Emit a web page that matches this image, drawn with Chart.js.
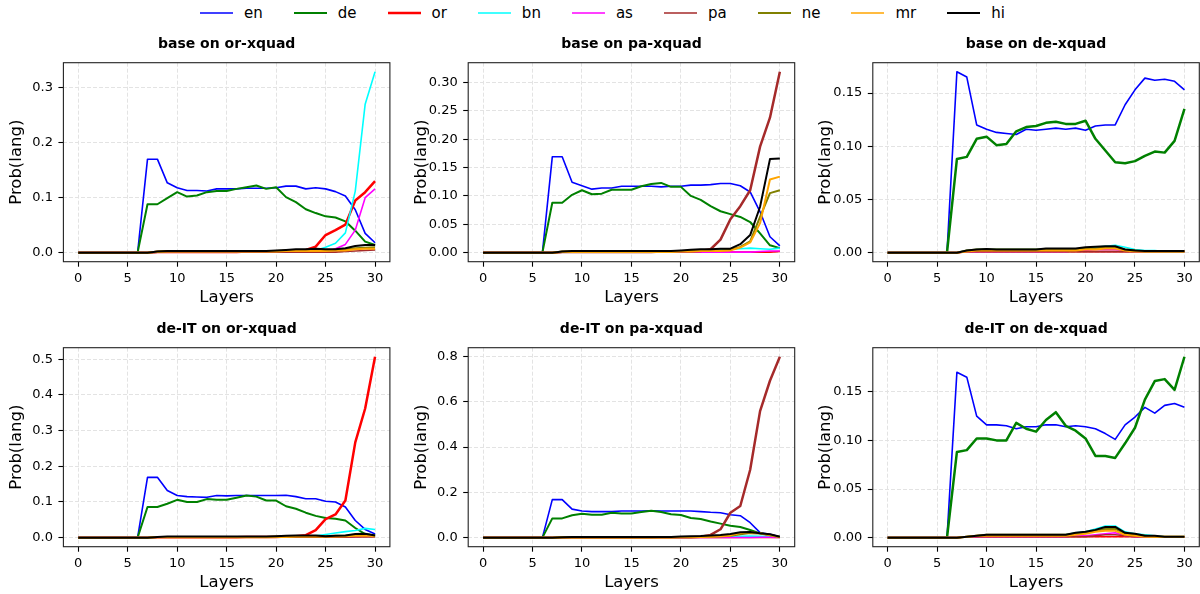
<!DOCTYPE html>
<html>
<head>
<meta charset="utf-8">
<script src="https://cdn.jsdelivr.net/npm/chart.js@4.4.1/dist/chart.umd.min.js"></script>
<style>
html,body{margin:0;padding:0;background:#fff;}
body{width:1200px;height:594px;overflow:hidden;position:relative;font-family:'DejaVu Sans',sans-serif;}
canvas{position:absolute;}
#legend{position:absolute;left:200px;top:2.7px;height:20px;display:flex;align-items:center;font-size:15px;color:#000;white-space:nowrap;}
.item{display:flex;align-items:center;margin-right:31px;}
.swatch{width:33px;height:6px;margin-right:11px;display:block;}
</style>
</head>
<body>
<div id="legend"></div>
<script>
// ---------------- DATA ----------------
const layers = [0,1,2,3,4,5,6,7,8,9,10,11,12,13,14,15,16,17,18,19,20,21,22,23,24,25,26,27,28,29,30];
const xTicks = [0,5,10,15,20,25,30];
const langs = ['en','de','or','bn','as','pa','ne','mr','hi'];
const panelTitles = ['base on or-xquad','base on pa-xquad','base on de-xquad','de-IT on or-xquad','de-IT on pa-xquad','de-IT on de-xquad'];
const panelTargets = ['or','pa','de','or','pa','de'];
const yTicks1 = [0,0.1,0.2,0.3];
const yTicks2 = [0,0.05,0.10,0.15,0.20,0.25,0.30];
const yTicks3 = [0,0.05,0.10,0.15];
const yTicks4 = [0,0.1,0.2,0.3,0.4,0.5];
const yTicks5 = [0,0.2,0.4,0.6,0.8];
const yTicks6 = [0,0.05,0.10,0.15];
const yDecimals = [1,2,2,1,1,2];

// Panel 1: base on or-xquad
const p1_en = [0,0,0,0,0,0,0, 0.170,0.170,0.127, 0.118,0.113,0.113,0.112,0.116,0.116,0.116,0.117,0.117,0.117, 0.118,0.121,0.121,0.116,0.118,0.116,0.111,0.103,0.078,0.035, 0.018];
const p1_de = [0,0,0,0,0,0,0, 0.088,0.088,0.099, 0.110,0.102,0.104,0.110,0.112,0.112,0.116,0.119,0.122,0.116, 0.119,0.101,0.092,0.079,0.072,0.066,0.064,0.057,0.040,0.020, 0.014];
const p1_or = [0,0,0,0,0,0,0, 0.000,0.001,0.001, 0.001,0.001,0.001,0.001,0.001,0.001,0.001,0.002,0.002,0.002, 0.002,0.003,0.004,0.005,0.011,0.032,0.041,0.051,0.095,0.110, 0.130];
const p1_bn = [0,0,0,0,0,0,0, 0.000,0.001,0.001, 0.001,0.001,0.001,0.001,0.001,0.001,0.001,0.001,0.002,0.002, 0.002,0.002,0.003,0.003,0.004,0.010,0.017,0.036,0.112,0.270, 0.329];
const p1_as = [0,0,0,0,0,0,0, 0.000,0.001,0.001, 0.001,0.001,0.001,0.001,0.001,0.001,0.001,0.001,0.001,0.001, 0.001,0.001,0.001,0.001,0.001,0.001,0.007,0.015,0.041,0.100, 0.116];
const p1_pa = [0,0,0,0,0,0,0, 0.000,0.001,0.001, 0.001,0.001,0.001,0.001,0.001,0.001,0.001,0.001,0.001,0.001, 0.001,0.001,0.001,0.001,0.001,0.001,0.001,0.002,0.003,0.004, 0.005];
const p1_ne = [0,0,0,0,0,0,0, 0.000,0.002,0.003, 0.003,0.003,0.003,0.003,0.003,0.003,0.003,0.003,0.003,0.003, 0.003,0.004,0.004,0.004,0.004,0.004,0.005,0.006,0.008,0.009, 0.010];
const p1_mr = [0,0,0,0,0,0,0, 0.000,0.001,0.002, 0.002,0.002,0.002,0.002,0.002,0.002,0.002,0.002,0.002,0.002, 0.002,0.003,0.003,0.003,0.003,0.003,0.004,0.004,0.006,0.007, 0.007];
const p1_hi = [0,0,0,0,0,0,0, 0.000,0.002,0.003, 0.003,0.003,0.003,0.003,0.003,0.003,0.003,0.003,0.003,0.003, 0.004,0.005,0.006,0.006,0.007,0.006,0.006,0.008,0.012,0.014, 0.014];

// Panel 2: base on pa-xquad
const p2_en = [0,0,0,0,0,0,0, 0.169,0.169,0.124, 0.118,0.112,0.114,0.114,0.117,0.117,0.117,0.117,0.116,0.117, 0.117,0.119,0.119,0.120,0.122,0.122,0.118,0.107,0.072,0.028, 0.012];
const p2_de = [0,0,0,0,0,0,0, 0.088,0.088,0.102, 0.110,0.103,0.104,0.111,0.111,0.111,0.117,0.121,0.123,0.116, 0.116,0.100,0.093,0.082,0.073,0.068,0.063,0.054,0.034,0.013, 0.008];
const p2_or = [0,0,0,0,0,0,0, 0.000,0.001,0.001, 0.001,0.001,0.001,0.001,0.001,0.001,0.001,0.001,0.001,0.001, 0.001,0.001,0.001,0.001,0.001,0.001,0.001,0.001,0.001,0.001, 0.002];
const p2_bn = [0,0,0,0,0,0,0, 0.000,0.001,0.001, 0.001,0.001,0.001,0.001,0.001,0.001,0.001,0.001,0.002,0.002, 0.002,0.002,0.003,0.004,0.005,0.006,0.007,0.008,0.007,0.006, 0.008];
const p2_as = [0,0,0,0,0,0,0, 0.000,0.001,0.001, 0.001,0.001,0.001,0.001,0.001,0.001,0.001,0.001,0.001,0.001, 0.001,0.001,0.001,0.001,0.001,0.001,0.001,0.001,0.002,0.003, 0.003];
const p2_pa = [0,0,0,0,0,0,0, 0.000,0.001,0.001, 0.001,0.001,0.001,0.001,0.001,0.001,0.001,0.001,0.002,0.002, 0.002,0.002,0.003,0.006,0.023,0.059,0.082,0.110,0.187,0.238, 0.319];
const p2_ne = [0,0,0,0,0,0,0, 0.000,0.002,0.002, 0.002,0.002,0.002,0.002,0.002,0.002,0.002,0.002,0.002,0.002, 0.003,0.003,0.004,0.004,0.004,0.005,0.010,0.020,0.063,0.105, 0.110];
const p2_mr = [0,0,0,0,0,0,0, 0.000,0.001,0.001, 0.001,0.001,0.001,0.001,0.001,0.001,0.001,0.001,0.001,0.001, 0.002,0.002,0.003,0.003,0.003,0.004,0.009,0.018,0.052,0.129, 0.134];
const p2_hi = [0,0,0,0,0,0,0, 0.000,0.002,0.003, 0.003,0.003,0.003,0.003,0.003,0.003,0.003,0.003,0.003,0.003, 0.004,0.005,0.006,0.006,0.007,0.007,0.015,0.031,0.081,0.165, 0.166];

// Panel 3: base on de-xquad
const p3_en = [0,0,0,0,0,0,0, 0.170,0.165,0.120, 0.116,0.113,0.112,0.111,0.116,0.115,0.116,0.117,0.116,0.117, 0.115,0.119,0.120,0.120,0.139,0.153,0.164,0.162,0.163,0.161, 0.153];
const p3_de = [0,0,0,0,0,0,0, 0.088,0.090,0.107, 0.109,0.101,0.102,0.114,0.118,0.119,0.122,0.123,0.121,0.121, 0.124,0.107,0.096,0.085,0.084,0.086,0.091,0.095,0.094,0.105, 0.135];
const p3_or = [0,0,0,0,0,0,0, 0.000,0.001,0.001, 0.001,0.001,0.001,0.001,0.001,0.001,0.001,0.001,0.001,0.001, 0.001,0.001,0.001,0.001,0.001,0.001,0.001,0.001,0.001,0.001, 0.001];
const p3_bn = [0,0,0,0,0,0,0, 0.000,0.002,0.003, 0.003,0.003,0.003,0.003,0.003,0.003,0.003,0.003,0.003,0.003, 0.004,0.005,0.006,0.007,0.005,0.003,0.002,0.002,0.001,0.001, 0.001];
const p3_as = [0,0,0,0,0,0,0, 0.000,0.001,0.001, 0.001,0.001,0.001,0.001,0.001,0.001,0.001,0.001,0.001,0.002, 0.002,0.003,0.003,0.003,0.002,0.001,0.001,0.001,0.001,0.001, 0.001];
const p3_pa = [0,0,0,0,0,0,0, 0.000,0.001,0.001, 0.001,0.001,0.001,0.001,0.001,0.001,0.001,0.001,0.001,0.001, 0.001,0.001,0.001,0.001,0.001,0.001,0.001,0.001,0.001,0.001, 0.001];
const p3_ne = [0,0,0,0,0,0,0, 0.000,0.002,0.003, 0.003,0.003,0.003,0.003,0.003,0.003,0.003,0.003,0.003,0.003, 0.004,0.004,0.005,0.005,0.003,0.002,0.001,0.001,0.001,0.001, 0.001];
const p3_mr = [0,0,0,0,0,0,0, 0.000,0.001,0.002, 0.002,0.002,0.002,0.002,0.002,0.002,0.002,0.002,0.002,0.002, 0.003,0.003,0.004,0.004,0.002,0.001,0.001,0.001,0.001,0.001, 0.001];
const p3_hi = [0,0,0,0,0,0,0, 0.000,0.002,0.003, 0.0035,0.003,0.003,0.003,0.003,0.003,0.004,0.004,0.004,0.004, 0.005,0.0055,0.006,0.006,0.003,0.002,0.0015,0.0015,0.0015,0.0015, 0.0015];

// Panel 4: de-IT on or-xquad
const p4_en = [0,0,0,0,0,0,0, 0.169,0.169,0.132, 0.118,0.115,0.114,0.113,0.118,0.117,0.118,0.118,0.118,0.118, 0.118,0.119,0.115,0.109,0.109,0.102,0.100,0.086,0.048,0.023, 0.010];
const p4_de = [0,0,0,0,0,0,0, 0.086,0.086,0.095, 0.106,0.100,0.100,0.108,0.106,0.106,0.112,0.118,0.115,0.104, 0.104,0.088,0.081,0.070,0.061,0.055,0.053,0.048,0.027,0.010, 0.006];
const p4_or = [0,0,0,0,0,0,0, 0.000,0.001,0.001, 0.001,0.001,0.001,0.001,0.001,0.001,0.001,0.002,0.002,0.002, 0.002,0.003,0.004,0.007,0.021,0.052,0.065,0.104,0.267,0.362, 0.507];
const p4_bn = [0,0,0,0,0,0,0, 0.000,0.001,0.001, 0.001,0.001,0.001,0.001,0.001,0.001,0.001,0.001,0.002,0.002, 0.002,0.002,0.003,0.004,0.005,0.009,0.013,0.017,0.020,0.026, 0.023];
const p4_as = [0,0,0,0,0,0,0, 0.000,0.001,0.001, 0.001,0.001,0.001,0.001,0.001,0.001,0.001,0.001,0.001,0.001, 0.001,0.001,0.001,0.001,0.001,0.001,0.001,0.002,0.003,0.004, 0.004];
const p4_pa = [0,0,0,0,0,0,0, 0.000,0.001,0.001, 0.001,0.001,0.001,0.001,0.001,0.001,0.001,0.001,0.001,0.001, 0.001,0.001,0.001,0.001,0.001,0.001,0.001,0.001,0.002,0.002, 0.002];
const p4_ne = [0,0,0,0,0,0,0, 0.000,0.002,0.002, 0.002,0.002,0.002,0.002,0.002,0.002,0.002,0.002,0.002,0.002, 0.003,0.003,0.004,0.004,0.004,0.004,0.005,0.005,0.007,0.008, 0.005];
const p4_mr = [0,0,0,0,0,0,0, 0.000,0.001,0.001, 0.001,0.001,0.001,0.001,0.001,0.001,0.001,0.001,0.001,0.001, 0.002,0.002,0.003,0.003,0.003,0.003,0.003,0.004,0.005,0.006, 0.004];
const p4_hi = [0,0,0,0,0,0,0, 0.000,0.002,0.003, 0.003,0.003,0.003,0.003,0.003,0.003,0.003,0.003,0.003,0.003, 0.004,0.005,0.006,0.006,0.006,0.004,0.005,0.006,0.010,0.011, 0.006];

// Panel 5: de-IT on pa-xquad
const p5_en = [0,0,0,0,0,0,0, 0.168,0.168,0.126, 0.118,0.115,0.115,0.115,0.118,0.118,0.118,0.119,0.118,0.118, 0.118,0.118,0.115,0.112,0.110,0.101,0.097,0.066,0.022,0.015, 0.004];
const p5_de = [0,0,0,0,0,0,0, 0.085,0.085,0.099, 0.106,0.101,0.101,0.110,0.107,0.107,0.113,0.119,0.113,0.103, 0.100,0.087,0.082,0.071,0.062,0.053,0.047,0.034,0.019,0.012, 0.003];
const p5_or = [0,0,0,0,0,0,0, 0.000,0.001,0.001, 0.001,0.001,0.001,0.001,0.001,0.001,0.001,0.001,0.001,0.001, 0.001,0.001,0.001,0.001,0.001,0.001,0.001,0.001,0.001,0.001, 0.001];
const p5_bn = [0,0,0,0,0,0,0, 0.000,0.001,0.001, 0.001,0.001,0.001,0.001,0.001,0.001,0.001,0.001,0.002,0.002, 0.002,0.002,0.003,0.003,0.004,0.005,0.006,0.007,0.006,0.005, 0.002];
const p5_as = [0,0,0,0,0,0,0, 0.000,0.001,0.001, 0.001,0.001,0.001,0.001,0.001,0.001,0.001,0.001,0.001,0.001, 0.001,0.001,0.001,0.001,0.001,0.001,0.001,0.001,0.002,0.002, 0.001];
const p5_pa = [0,0,0,0,0,0,0, 0.000,0.001,0.001, 0.001,0.001,0.001,0.001,0.001,0.001,0.001,0.001,0.002,0.002, 0.002,0.002,0.004,0.012,0.037,0.110,0.140,0.300,0.559,0.693, 0.799];
const p5_ne = [0,0,0,0,0,0,0, 0.000,0.002,0.002, 0.002,0.002,0.002,0.002,0.002,0.002,0.002,0.002,0.002,0.002, 0.003,0.003,0.004,0.004,0.005,0.008,0.015,0.020,0.018,0.010, 0.002];
const p5_mr = [0,0,0,0,0,0,0, 0.000,0.001,0.001, 0.001,0.001,0.001,0.001,0.001,0.001,0.001,0.001,0.001,0.001, 0.002,0.002,0.003,0.004,0.006,0.010,0.020,0.024,0.020,0.012, 0.003];
const p5_hi = [0,0,0,0,0,0,0, 0.000,0.002,0.003, 0.003,0.003,0.003,0.003,0.003,0.003,0.003,0.003,0.003,0.003, 0.005,0.006,0.007,0.009,0.012,0.016,0.024,0.025,0.019,0.015, 0.004];

// Panel 6: de-IT on de-xquad
const p6_en = [0,0,0,0,0,0,0, 0.170,0.165,0.125, 0.116,0.116,0.115,0.112,0.114,0.114,0.116,0.116,0.114,0.115, 0.114,0.112,0.107,0.101,0.116,0.124,0.134,0.128,0.136,0.138, 0.134];
const p6_de = [0,0,0,0,0,0,0, 0.088,0.090,0.102, 0.102,0.100,0.100,0.118,0.112,0.109,0.121,0.129,0.115,0.110, 0.102,0.084,0.084,0.082,0.097,0.113,0.142,0.161,0.163,0.152, 0.186];
const p6_or = [0,0,0,0,0,0,0, 0.000,0.001,0.001, 0.001,0.001,0.001,0.001,0.001,0.001,0.001,0.001,0.001,0.001, 0.001,0.001,0.001,0.001,0.001,0.001,0.001,0.001,0.001,0.001, 0.001];
const p6_bn = [0,0,0,0,0,0,0, 0.000,0.001,0.002, 0.003,0.003,0.003,0.003,0.003,0.003,0.003,0.003,0.003,0.005, 0.006,0.009,0.012,0.012,0.006,0.004,0.003,0.002,0.001,0.001, 0.001];
const p6_as = [0,0,0,0,0,0,0, 0.000,0.001,0.001, 0.001,0.001,0.001,0.001,0.001,0.001,0.001,0.001,0.001,0.002, 0.002,0.003,0.004,0.005,0.002,0.001,0.001,0.001,0.001,0.001, 0.001];
const p6_pa = [0,0,0,0,0,0,0, 0.000,0.001,0.001, 0.001,0.001,0.001,0.001,0.001,0.001,0.001,0.001,0.001,0.001, 0.001,0.002,0.003,0.003,0.002,0.001,0.001,0.001,0.001,0.001, 0.001];
const p6_ne = [0,0,0,0,0,0,0, 0.000,0.001,0.002, 0.003,0.003,0.003,0.003,0.003,0.003,0.003,0.003,0.003,0.004, 0.005,0.007,0.009,0.009,0.004,0.003,0.002,0.001,0.001,0.001, 0.001];
const p6_mr = [0,0,0,0,0,0,0, 0.000,0.001,0.002, 0.002,0.002,0.002,0.002,0.002,0.002,0.002,0.002,0.002,0.003, 0.004,0.006,0.007,0.007,0.003,0.002,0.001,0.001,0.001,0.001, 0.001];
const p6_hi = [0,0,0,0,0,0,0, 0.000,0.001,0.002, 0.003,0.003,0.003,0.003,0.003,0.003,0.003,0.003,0.003,0.005, 0.006,0.008,0.011,0.011,0.005,0.004,0.002,0.002,0.001,0.001, 0.001];

// ---------------- STYLE / LAYOUT ----------------
const langColors = ['#0000ff','#008000','#ff0000','#00ffff','#ff00ff','#a52a2a','#808000','#ffa500','#000000'];
const legendWidths = [1.6,2,2.5,1.6,1.6,1.6,2,1.6,1.8];
const FONT = "'DejaVu Sans', sans-serif";

const panelSeries = [
  [p1_en,p1_de,p1_or,p1_bn,p1_as,p1_pa,p1_ne,p1_mr,p1_hi],
  [p2_en,p2_de,p2_or,p2_bn,p2_as,p2_pa,p2_ne,p2_mr,p2_hi],
  [p3_en,p3_de,p3_or,p3_bn,p3_as,p3_pa,p3_ne,p3_mr,p3_hi],
  [p4_en,p4_de,p4_or,p4_bn,p4_as,p4_pa,p4_ne,p4_mr,p4_hi],
  [p5_en,p5_de,p5_or,p5_bn,p5_as,p5_pa,p5_ne,p5_mr,p5_hi],
  [p6_en,p6_de,p6_or,p6_bn,p6_as,p6_pa,p6_ne,p6_mr,p6_hi]
];
const panelYTicks = [yTicks1,yTicks2,yTicks3,yTicks4,yTicks5,yTicks6];

const colCanvasLeft = [0,405,809];
const colAreaLeft = [63.4,468.2,872.8];
const rowCanvasTop = [22,307];
const rowAreaTop = [62.7,347.7];
const AREA_W = 326.5, AREA_H = 199, CANVAS_W = 391, CANVAS_H = 287;

function lineWidthFor(lang, target){
  if (lang === target) return 2.5;
  if (lang === 'de' || lang === 'ne' || lang === 'mr' || lang === 'hi') return 2;
  return 1.6;
}

// legend (SVG swatches so fractional widths render faithfully)
const SVGNS = 'http://www.w3.org/2000/svg';
const leg = document.getElementById('legend');
langs.forEach((l,i)=>{
  const it = document.createElement('div'); it.className='item';
  const sw = document.createElementNS(SVGNS, 'svg');
  sw.setAttribute('class','swatch'); sw.setAttribute('width','33'); sw.setAttribute('height','6');
  const ln = document.createElementNS(SVGNS, 'line');
  ln.setAttribute('x1','0'); ln.setAttribute('x2','33'); ln.setAttribute('y1','3'); ln.setAttribute('y2','3');
  ln.setAttribute('stroke', langColors[i]); ln.setAttribute('stroke-width', String(legendWidths[i]));
  sw.appendChild(ln);
  const tx = document.createElement('span'); tx.textContent = l;
  it.appendChild(sw); it.appendChild(tx); leg.appendChild(it);
});

const framePlugin = {
  id: 'frame',
  afterDraw(chart){
    const {ctx, chartArea: a} = chart;
    ctx.save();
    ctx.strokeStyle = '#222';
    ctx.lineWidth = 1.1;
    ctx.setLineDash([]);
    ctx.strokeRect(a.left, a.top, a.right - a.left, a.bottom - a.top);
    ctx.restore();
  }
};

for (let p = 0; p < 6; p++) {
  const row = Math.floor(p/3), col = p % 3;
  const cv = document.createElement('canvas');
  cv.width = CANVAS_W; cv.height = CANVAS_H;
  cv.style.width = CANVAS_W + 'px'; cv.style.height = CANVAS_H + 'px';
  cv.style.left = colCanvasLeft[col] + 'px'; cv.style.top = rowCanvasTop[row] + 'px';
  document.body.appendChild(cv);

  const series = panelSeries[p];
  const dataMax = Math.max(...series.map(s => Math.max(...s)));
  const dataMin = Math.min(...series.map(s => Math.min(...s)));
  const span = dataMax - dataMin;
  const yMin = dataMin - 0.05*span, yMax = dataMax + 0.05*span;

  const yAxisW = colAreaLeft[col] - colCanvasLeft[col];
  const titleH = rowAreaTop[row] - rowCanvasTop[row];
  const xAxisH = CANVAS_H - titleH - AREA_H;
  const rightPad = CANVAS_W - yAxisW - AREA_W;
  const yTicks = panelYTicks[p];
  const dec = yDecimals[p];

  const datasets = langs.map((lang, i) => ({
    label: lang,
    data: layers.map((x, j) => ({x: x, y: series[i][j]})),
    borderColor: langColors[i],
    backgroundColor: langColors[i],
    borderWidth: lineWidthFor(lang, panelTargets[p]),
    pointRadius: 0,
    pointHoverRadius: 0,
    fill: false,
    tension: 0,
    borderJoinStyle: 'round',
    order: langs.length - i
  }));

  new Chart(cv, {
    type: 'line',
    data: { datasets },
    plugins: [framePlugin],
    options: {
      responsive: false,
      animation: false,
      devicePixelRatio: 1,
      events: [],
      layout: { padding: { left: 0, top: 0, bottom: 0, right: rightPad } },
      plugins: {
        legend: { display: false },
        tooltip: { enabled: false },
        title: {
          display: true,
          text: panelTitles[p],
          fullSize: false,
          color: '#000',
          font: { family: FONT, size: 14, weight: 'bold', lineHeight: 1.2 },
          padding: { top: titleH - 16.8 - 9.8, bottom: 9.8 }
        }
      },
      scales: {
        x: {
          type: 'linear',
          min: -1.5, max: 31.5,
          afterBuildTicks: (s) => { s.ticks = xTicks.map(v => ({value: v})); },
          afterFit: (s) => { s.height = xAxisH; },
          ticks: { color: '#000', font: { family: FONT, size: 13 }, padding: 4, maxRotation: 0, autoSkip: false,
                   callback: (v) => String(v) },
          grid: { color: '#e3e3e3', lineWidth: 1, tickLength: 5, tickColor: '#000', tickWidth: 1.1, tickBorderDash: [] },
          border: { display: false, dash: [4, 2] },
          title: { display: true, text: 'Layers', color: '#000', font: { family: FONT, size: 16.5, lineHeight: 1.2 },
                   padding: { top: 0, bottom: CANVAS_H - (titleH + AREA_H + 36.3) - 9.9 } }
        },
        y: {
          type: 'linear',
          min: yMin, max: yMax,
          afterBuildTicks: (s) => { s.ticks = yTicks.map(v => ({value: v})); },
          afterFit: (s) => { s.width = yAxisW; },
          ticks: { color: '#000', font: { family: FONT, size: 13 }, padding: 5.5, autoSkip: false,
                   callback: (v) => Number(v).toFixed(dec) },
          grid: { color: '#e3e3e3', lineWidth: 1, tickLength: 5, tickColor: '#000', tickWidth: 1.1, tickBorderDash: [] },
          border: { display: false, dash: [4, 2] },
          title: { display: true, text: 'Prob(lang)', color: '#000', font: { family: FONT, size: 16.5, lineHeight: 1.2 },
                   padding: { top: yAxisW - 46.7 - 9.9, bottom: 0 } }
        }
      }
    }
  });
}
</script>
</body>
</html>
